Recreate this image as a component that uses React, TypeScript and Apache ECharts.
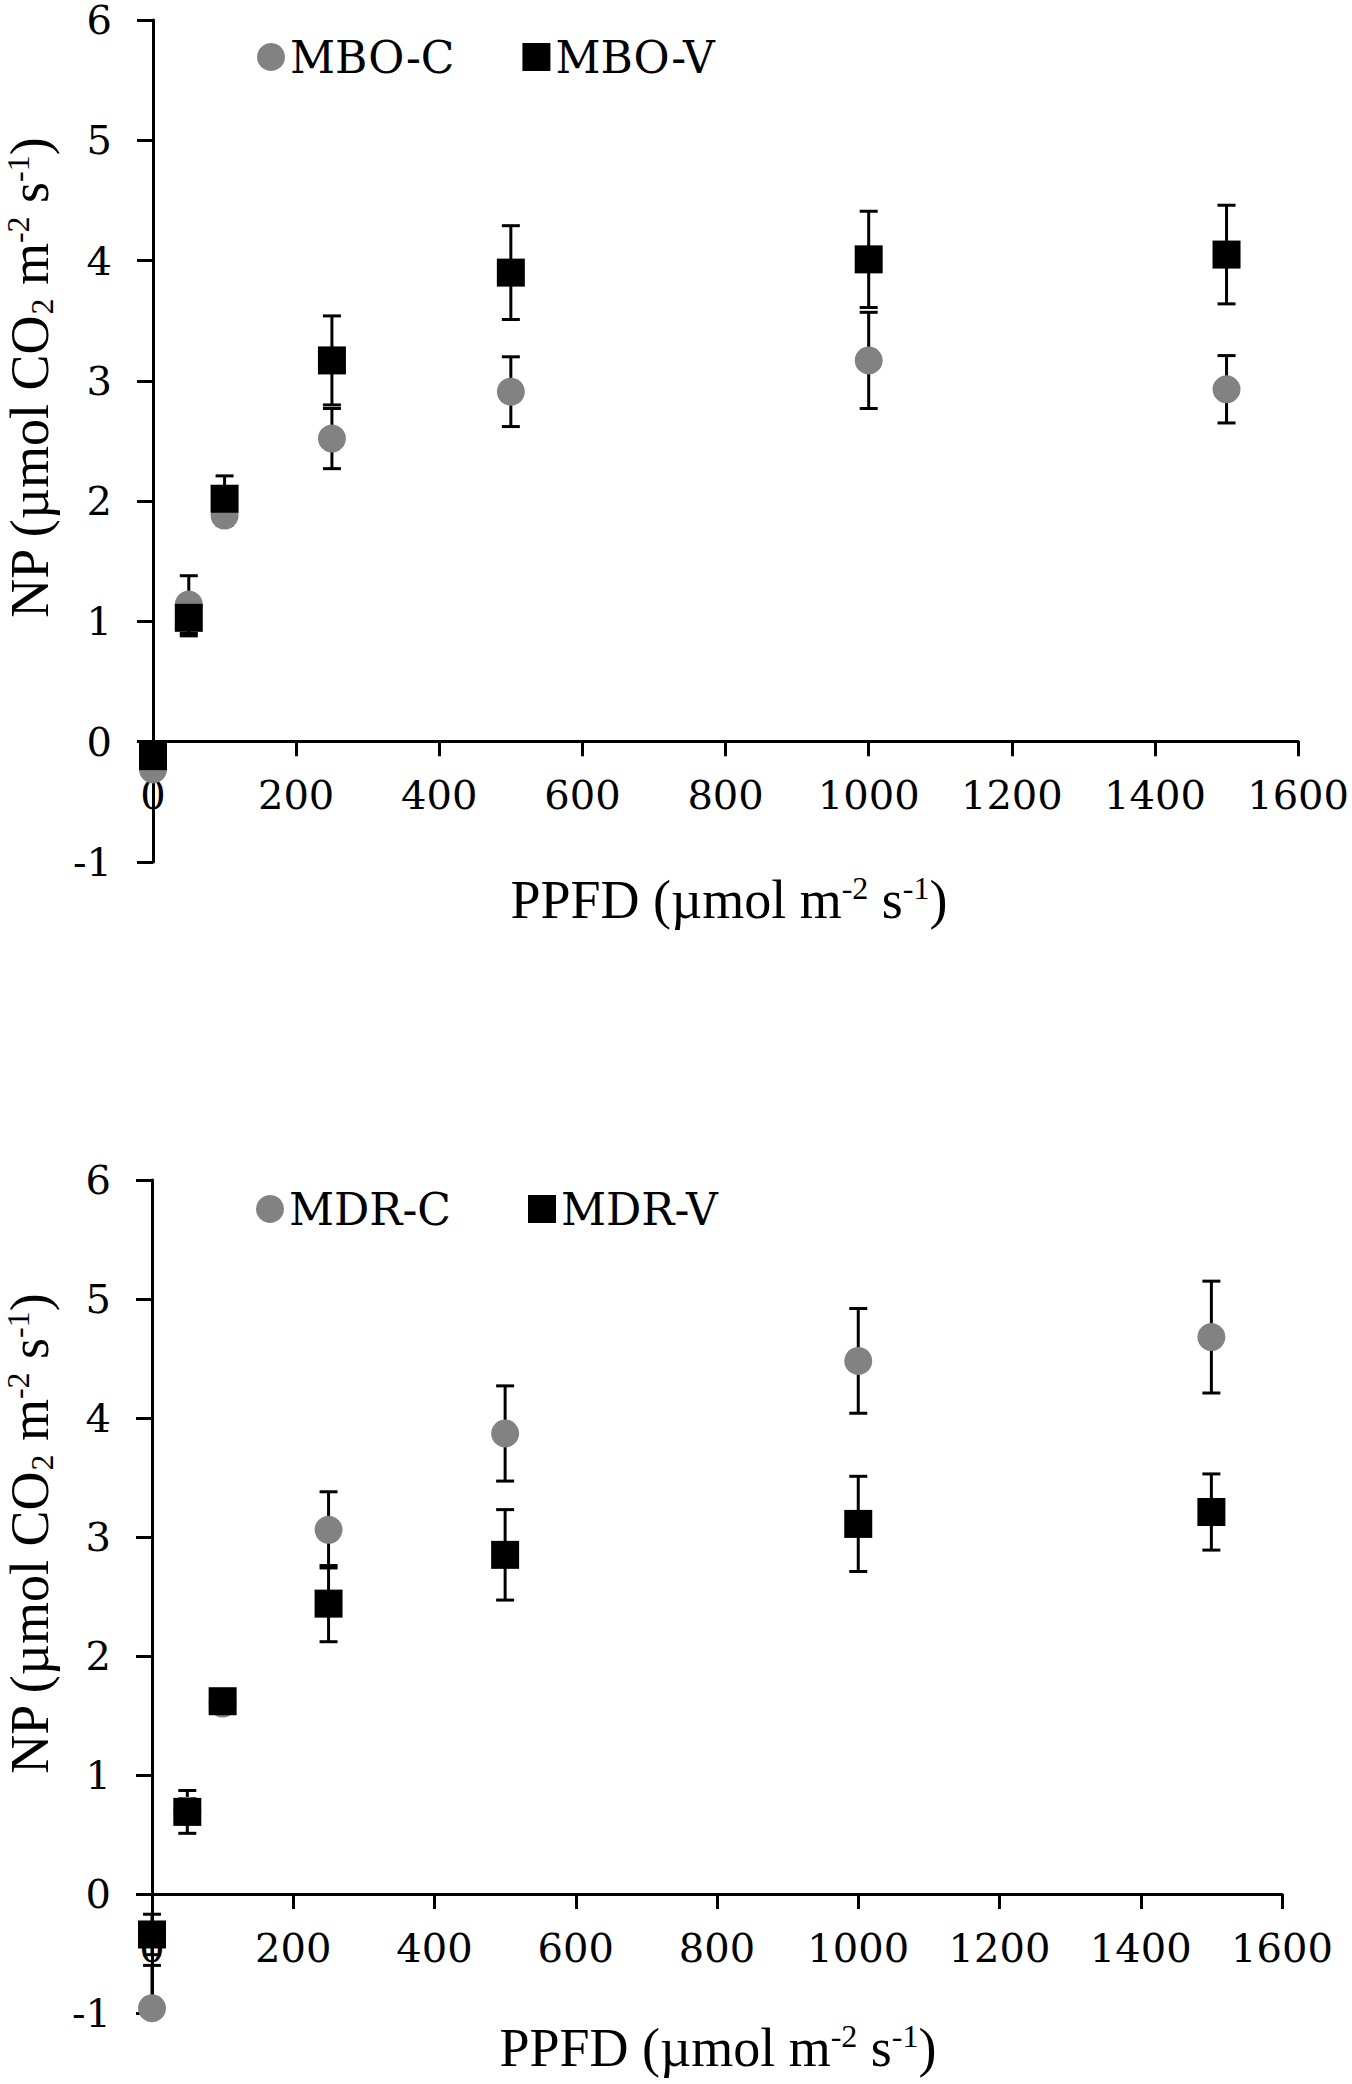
import React, { useEffect, useRef } from "react";
import * as echarts from "echarts";

// PPFD levels (µmol m-2 s-1)
const ppfd = [0, 50, 100, 250, 500, 1000, 1500];

// Top panel: MBO
const mboC = [-0.23, 1.14, 1.88, 2.52, 2.91, 3.17, 2.93];
const mboCErr = [0.05, 0.24, 0.08, 0.25, 0.29, 0.4, 0.28];
const mboV = [-0.12, 1.03, 2.02, 3.17, 3.9, 4.01, 4.05];
const mboVErr = [0.05, 0.15, 0.19, 0.37, 0.39, 0.4, 0.41];

// Bottom panel: MDR
const mdrC = [-0.96, 0.7, 1.6, 3.06, 3.87, 4.48, 4.68];
const mdrCErr = [0.36, 0.1, 0.08, 0.32, 0.4, 0.44, 0.47];
const mdrV = [-0.34, 0.69, 1.62, 2.44, 2.85, 3.11, 3.21];
const mdrVErr = [0.17, 0.18, 0.08, 0.32, 0.38, 0.4, 0.32];

const xTicks = { min: 0, max: 1600, interval: 200 };
const yTicks = { min: -1, max: 6, interval: 1 };

const FONT = "Liberation Serif";
const TICKFONT = "DejaVu Serif";
const GRAY = "#828282";

const pts = (vals: number[]) => ppfd.map((x, i) => [x, vals[i]]);
const errs = (vals: number[], e: number[]) =>
  ppfd.map((x, i) => [x, vals[i] - e[i], vals[i] + e[i]]);

const errorRender = (params: any, api: any) => {
  const x = api.value(0);
  const lo = api.value(1);
  const hi = api.value(2);
  const cs = params.coordSys;
  const top = cs.y;
  const bottom = cs.y + cs.height;
  const p1 = api.coord([x, hi]);
  const p2 = api.coord([x, lo]);
  const hw = 9;
  const st = { stroke: "#000", lineWidth: 3 };
  let yHi = p1[1];
  let yLo = p2[1];
  const children: any[] = [];
  const hiClip = yHi < top;
  const loClip = yLo > bottom;
  if (hiClip) yHi = top;
  if (loClip) yLo = bottom;
  children.push({ type: "line", shape: { x1: p1[0], y1: yHi, x2: p1[0], y2: yLo }, style: st });
  if (!hiClip)
    children.push({ type: "line", shape: { x1: p1[0] - hw, y1: yHi, x2: p1[0] + hw, y2: yHi }, style: st });
  if (!loClip)
    children.push({ type: "line", shape: { x1: p2[0] - hw, y1: yLo, x2: p2[0] + hw, y2: yLo }, style: st });
  return { type: "group", children };
};

const axisLineStyle = { color: "#000", width: 3 };

// x axis drawn at y = 0 (offset upward by one y-unit from the grid bottom)
const makeX = (gridIndex: number, unitPx: number) => ({
  gridIndex,
  type: "value",
  ...xTicks,
  offset: -unitPx,
  axisLine: { show: true, onZero: false, lineStyle: axisLineStyle },
  axisTick: { show: true, length: 15, lineStyle: axisLineStyle },
  axisLabel: {
    fontFamily: TICKFONT,
    fontSize: 40,
    color: "#000",
    margin: 34,
    formatter: (v: number) => String(v),
  },
  splitLine: { show: false },
});

const makeY = (gridIndex: number) => ({
  gridIndex,
  type: "value",
  ...yTicks,
  axisLine: { show: true, onZero: false, lineStyle: axisLineStyle },
  axisTick: { show: true, length: 16, lineStyle: axisLineStyle },
  axisLabel: {
    fontFamily: TICKFONT,
    fontSize: 40,
    lineHeight: 32,
    color: "#000",
    margin: 41,
    formatter: (v: number) => String(v),
  },
  splitLine: { show: false },
});

const rich = {
  n: { fontFamily: FONT, fontSize: 54, lineHeight: 56, color: "#000" },
  sup: { fontFamily: FONT, fontSize: 32, lineHeight: 32, color: "#000", verticalAlign: "top" },
  sub: { fontFamily: FONT, fontSize: 32, lineHeight: 32, color: "#000", verticalAlign: "bottom" },
};

const xTitle = "{n|PPFD (µmol m}{sup|-2}{n| s}{sup|-1}{n|)}";
const yTitle = "{n|NP (µmol CO}{sub|2}{n| m}{sup|-2}{n| s}{sup|-1}{n|)}";

const legendText = { fontFamily: TICKFONT, fontSize: 44, lineHeight: 44, color: "#000" };

export default function App() {
  const ref = useRef<HTMLDivElement>(null);
  useEffect(() => {
    if (!ref.current) return;
    const chart = echarts.init(ref.current, undefined, { renderer: "svg" });
    const scatter = (name: string, xi: number, data: number[][], symbol: string, color: string, z: number) => ({
      name,
      type: "scatter",
      xAxisIndex: xi,
      yAxisIndex: xi,
      data,
      symbol,
      symbolSize: 28,
      itemStyle: { color, opacity: 1 },
      z,
    });
    const errSeries = (name: string, xi: number, data: number[][]) => ({
      name,
      type: "custom",
      xAxisIndex: xi,
      yAxisIndex: xi,
      data,
      renderItem: errorRender,
      clip: false,
      z: 1,
      silent: true,
    });
    const topH = 2084 - 17 - 1222;
    const botH = 2084 - 1180 - 71;
    chart.setOption({
      animation: false,
      backgroundColor: "#fff",
      grid: [
        { left: 153, right: 46, top: 17, bottom: 1222 },
        { left: 152, right: 70, top: 1180, bottom: 71 },
      ],
      xAxis: [makeX(0, topH / 7), makeX(1, botH / 7)],
      yAxis: [makeY(0), makeY(1)],
      legend: [
        {
          data: ["MBO-C", "MBO-V"],
          left: 257,
          top: 35,
          padding: 0,
          itemWidth: 28,
          itemHeight: 28,
          itemGap: 68,
          selectedMode: false,
          textStyle: legendText,
        },
        {
          data: ["MDR-C", "MDR-V"],
          left: 256,
          top: 1187,
          padding: 0,
          itemWidth: 28,
          itemHeight: 28,
          itemGap: 77,
          selectedMode: false,
          textStyle: legendText,
        },
      ],
      graphic: [
        {
          type: "text",
          x: 729,
          y: 900,
          style: { text: xTitle, rich, align: "center", verticalAlign: "middle" },
        },
        {
          type: "text",
          x: 718,
          y: 2048,
          style: { text: xTitle, rich, align: "center", verticalAlign: "middle" },
        },
        {
          type: "text",
          x: 30,
          y: 378,
          rotation: Math.PI / 2,
          style: { text: yTitle, rich, align: "center", verticalAlign: "middle" },
        },
        {
          type: "text",
          x: 30,
          y: 1534,
          rotation: Math.PI / 2,
          style: { text: yTitle, rich, align: "center", verticalAlign: "middle" },
        },
      ],
      series: [
        errSeries("errMBOC", 0, errs(mboC, mboCErr)),
        errSeries("errMBOV", 0, errs(mboV, mboVErr)),
        scatter("MBO-C", 0, pts(mboC), "circle", GRAY, 2),
        scatter("MBO-V", 0, pts(mboV), "rect", "#000", 3),
        errSeries("errMDRC", 1, errs(mdrC, mdrCErr)),
        errSeries("errMDRV", 1, errs(mdrV, mdrVErr)),
        scatter("MDR-C", 1, pts(mdrC), "circle", GRAY, 2),
        scatter("MDR-V", 1, pts(mdrV), "rect", "#000", 3),
      ],
    });
    return () => chart.dispose();
  }, []);
  return (
    <div
      ref={ref}
      style={{ position: "absolute", left: 0, top: 0, width: 1352, height: 2084 }}
    />
  );
}
